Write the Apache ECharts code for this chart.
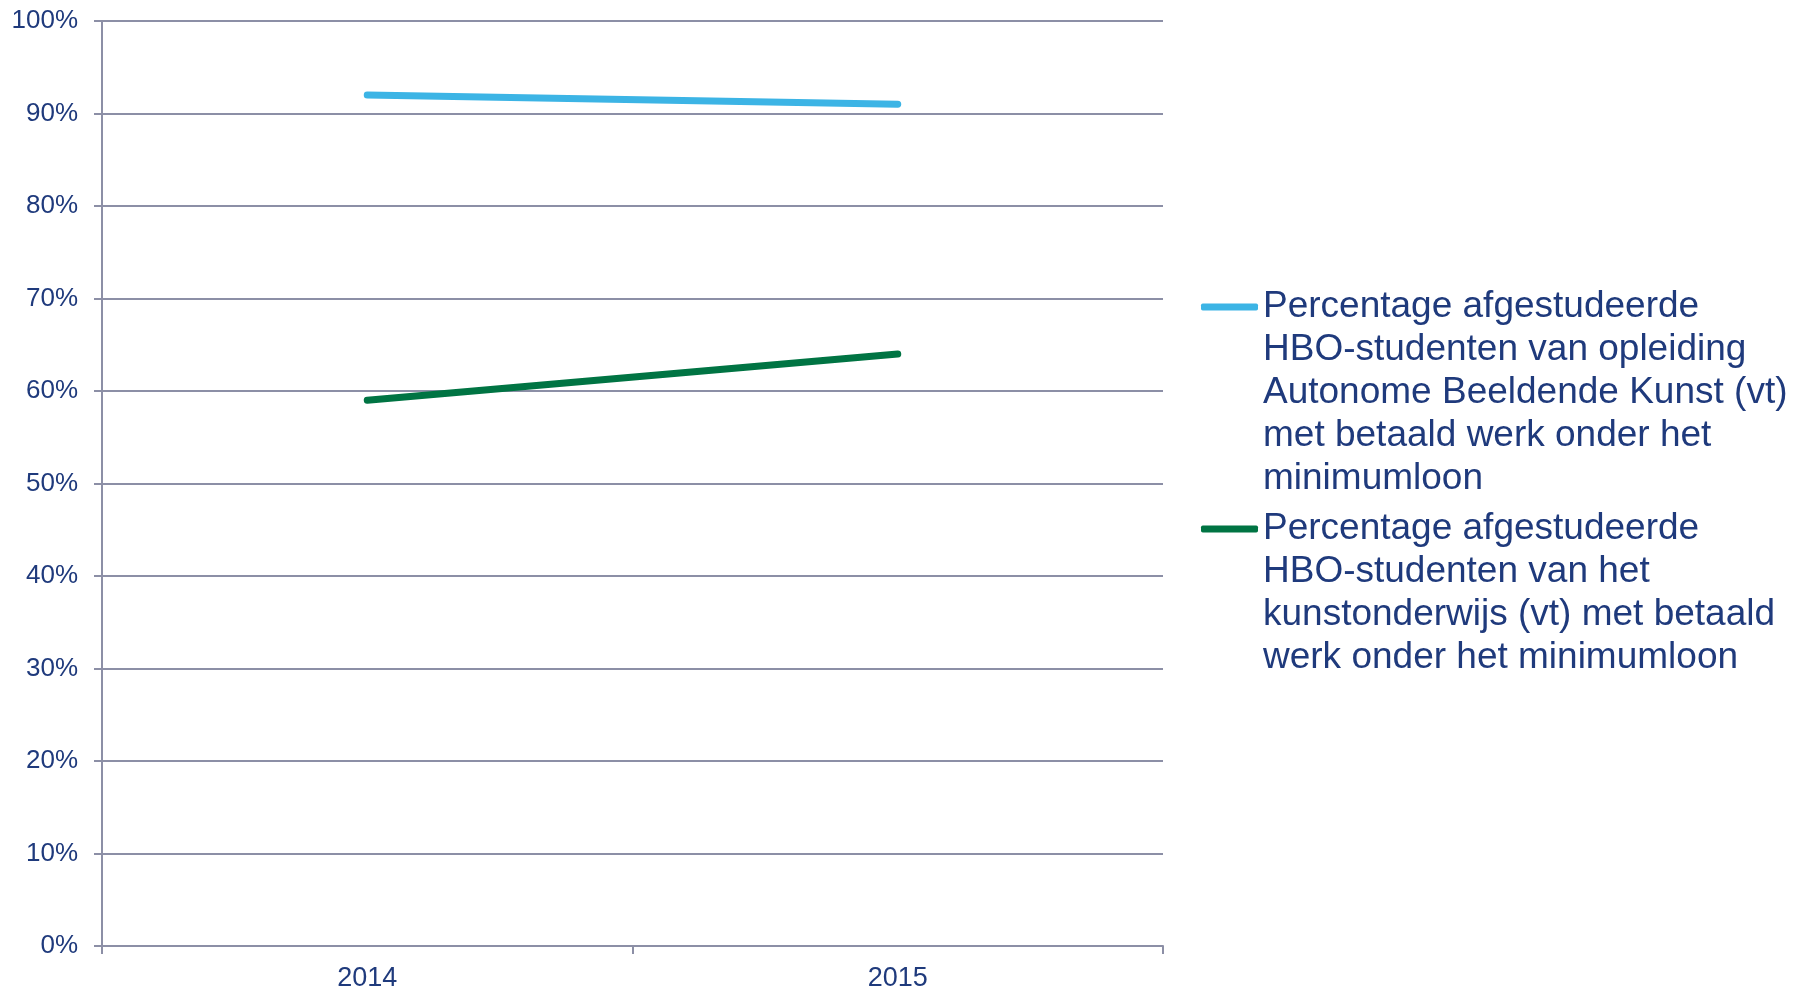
<!DOCTYPE html>
<html>
<head>
<meta charset="utf-8">
<script src="https://cdn.jsdelivr.net/npm/echarts@6/dist/echarts.min.js"></script>
<style>
  html, body { margin: 0; padding: 0; background: #fff; }
  #main { width: 1808px; height: 989px; }
</style>
</head>
<body>
<div id="main"></div>
<script>
var years = ['2014', '2015'];
var abkName = 'Percentage afgestudeerde HBO-studenten van opleiding Autonome Beeldende Kunst (vt) met betaald werk onder het minimumloon';
var kunstName = 'Percentage afgestudeerde HBO-studenten van het kunstonderwijs (vt) met betaald werk onder het minimumloon';
var abkValues = [92, 91];
var kunstValues = [59, 64];
// legend text as it is wrapped in the picture
var abkLines = ['Percentage afgestudeerde', 'HBO-studenten van opleiding', 'Autonome Beeldende Kunst (vt)', 'met betaald werk onder het', 'minimumloon'];
var kunstLines = ['Percentage afgestudeerde', 'HBO-studenten van het', 'kunstonderwijs (vt) met betaald', 'werk onder het minimumloon'];

var textColor = '#1f3a7c';
var gridColor = '#8c8fa6';
var font = 'Arial, "Liberation Sans", sans-serif';
var lh = 43;

var myChart = echarts.init(document.getElementById('main'));

function makeLegend(name, lines, iconY) {
    // legend centres the text on the icon, so blank lines go first
    // to bring the first real line level with the icon
    var blank = [];
    for (var i = 1; i < lines.length; i++) blank.push('');
    var total = (lines.length * 2 - 1) * lh;
    return {
        orient: 'vertical',
        left: 1201,
        top: iconY - total / 2,
        padding: 0,
        data: [name],
        itemWidth: 57,
        itemHeight: 7,
        icon: 'roundRect',
        formatter: function () { return blank.concat(lines).join('\n'); },
        textStyle: {
            color: textColor,
            fontFamily: font,
            fontSize: 37,
            lineHeight: lh
        }
    };
}

var option = {
    animation: false,
    backgroundColor: '#fff',
    grid: {
        left: 102,
        right: 645,
        top: 21,
        bottom: 43,
        outerBoundsMode: 'none'
    },
    legend: [
        makeLegend(abkName, abkLines, 307),
        makeLegend(kunstName, kunstLines, 529)
    ],
    xAxis: {
        type: 'category',
        data: years,
        boundaryGap: true,
        axisLine: { lineStyle: { color: gridColor, width: 2 } },
        axisTick: { show: true, length: 8, lineStyle: { color: gridColor, width: 2 } },
        axisLabel: { color: textColor, fontFamily: font, fontSize: 27, margin: 19 }
    },
    yAxis: {
        type: 'value',
        min: 0,
        max: 100,
        interval: 10,
        axisLine: { show: true, lineStyle: { color: gridColor, width: 2 } },
        axisTick: { show: true, length: 8, lineStyle: { color: gridColor, width: 2 } },
        axisLabel: { color: textColor, fontFamily: font, fontSize: 26, margin: 24, formatter: '{value}%' },
        splitLine: { lineStyle: { color: gridColor, width: 2 } }
    },
    series: [
        {
            name: abkName,
            type: 'line',
            data: abkValues,
            symbol: 'none',
            itemStyle: { color: '#3cb4e5' },
            lineStyle: { color: '#3cb4e5', width: 7, cap: 'round' }
        },
        {
            name: kunstName,
            type: 'line',
            data: kunstValues,
            symbol: 'none',
            itemStyle: { color: '#007443' },
            lineStyle: { color: '#007443', width: 7, cap: 'round' }
        }
    ]
};
myChart.setOption(option);
</script>
</body>
</html>
